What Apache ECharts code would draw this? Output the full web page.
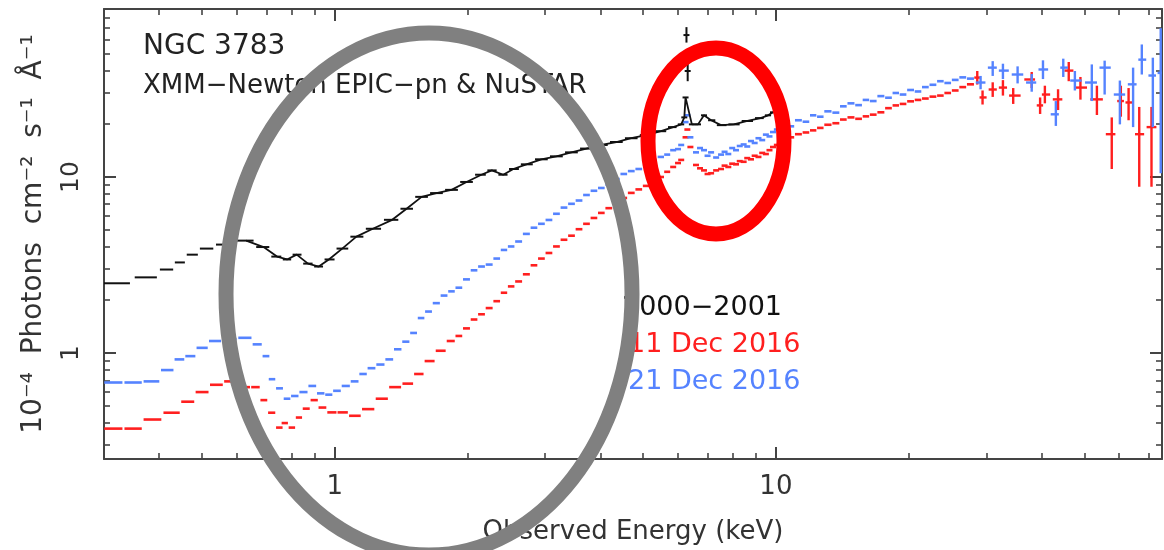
<!DOCTYPE html>
<html><head><meta charset="utf-8">
<script src="https://cdn.jsdelivr.net/npm/echarts@6/dist/echarts.min.js"></script>
<style>html,body{margin:0;padding:0;background:#fff}#c{width:1164px;height:550px}</style>
</head><body><div id="c"></div>
<script>
// ---- data (energy keV, flux 1e-4 ph cm^-2 s^-1 A^-1) ----
const blackE = [0.32,0.378,0.42,0.445,0.475,0.51,0.56,0.63,0.69,0.74,
  0.78,0.82,0.87,0.92,0.97,1.04,1.12,1.22,1.35,1.455,
  1.574,1.70,1.84,1.99,2.15,2.27,2.41,2.54,2.72,2.94,
  3.18,3.44,3.72,4.02,4.35,4.70,5.08,5.49,5.85,6.10,
  6.20,6.24,6.45,6.66,6.87,7.13,7.51,8.03,8.62,9.23,
  9.60,9.85];
const blackF = [2.49,2.69,2.98,3.27,3.62,3.92,4.13,4.35,4.0,3.53,
  3.40,3.62,3.22,3.10,3.40,3.92,4.58,5.08,5.71,6.6,
  7.71,8.1,8.45,9.37,10.3,10.9,10.3,11.1,11.8,12.6,
  13.1,13.8,14.5,15.2,15.8,16.6,17.3,18.2,19.2,19.9,
  21.8,28.3,19.9,19.9,22.4,21.0,19.7,19.9,20.8,21.6,
  22.4,23.3];
const blackPeakE = [6.27,6.31];
const blackPeakF = [64,40];
const blackPeakLo = [58,35];
const blackPeakHi = [71,46];

const blueE = [0.315,0.35,0.385,0.42,0.445,0.47,0.50,0.535,0.575,0.63,
  0.67,0.70,0.72,0.75,0.78,0.81,0.85,0.89,0.93,0.97,
  1.01,1.06,1.11,1.16,1.21,1.27,1.33,1.39,1.45,1.51,
  1.57,1.63,1.70,1.77,1.84,1.91,1.99,2.07,2.15,2.24,
  2.33,2.42,2.51,2.61,2.72,2.83,2.94,3.06,3.18,3.31,
  3.44,3.58,3.72,3.87,4.02,4.18,4.35,4.52,4.70,4.89,
  5.08,5.28,5.49,5.67,5.85,6.00,6.10,6.24,6.30,6.40,
  6.59,6.73,6.87,7.00,7.13,7.32,7.51,7.65,7.80,7.96,
  8.12,8.28,8.45,8.61,8.78,8.95,9.13,9.31,9.49,9.67,
  9.85,10.05,10.3,10.55,10.8,11.25,11.7,12.15,12.6,13.1,
  13.7,14.2,14.8,15.4,16.0,16.6,17.3,18.0,18.7,19.4,
  20.2,21.0,21.8,22.7,23.6,24.5,25.5,26.5,27.6];
const blueF = [0.68,0.68,0.69,0.80,0.92,0.96,1.07,1.17,1.20,1.22,
  1.12,0.96,0.71,0.63,0.55,0.57,0.60,0.65,0.59,0.58,
  0.61,0.65,0.69,0.76,0.82,0.86,0.92,1.05,1.16,1.30,
  1.58,1.72,1.92,2.12,2.24,2.35,2.62,2.95,3.10,3.18,
  3.44,3.85,4.03,4.30,4.75,5.15,5.42,5.70,6.18,6.70,
  7.04,7.35,7.90,8.35,8.66,9.05,9.74,10.4,10.8,11.1,
  11.7,12.5,13.0,13.4,14.2,14.4,15.2,20.5,22.4,16.8,
  13.8,14.6,14.2,13.2,13.8,12.9,13.4,13.9,13.5,14.6,
  14.2,15.0,15.3,14.9,16.0,15.6,16.6,16.2,17.4,17.0,
  18.0,18.6,19.0,19.8,19.4,21.0,20.6,22.4,22.0,23.6,
  23.2,25.2,26.2,25.6,27.4,27.0,28.8,28.2,30.0,29.4,
  31.2,30.6,32.4,33.4,35.0,34.2,35.6,36.8,36.2];
const blueHardE  = [29.1,31.0,32.7,35.3,38.0,40.3,43.1,44.8,47.6,52.0,55.6,60.2,64.5,67.5,71.5,74.5];
const blueHardF  = [34.4,41.8,40.2,38.2,34.4,40.8,22.7,41.8,35.3,34.4,41.8,29.4,33.6,46.4,37.7,39];
const blueHardLo = [31.5,37.5,36,34,30.5,36,19.5,37,31,27,29.4,19.9,19.2,38.2,19.2,10.5];
const blueHardHi = [37.5,45.5,44,42.5,38.5,46,27,47,40,43.6,45.8,35.3,41.8,56.6,47.6,70];

const redE = [0.315,0.35,0.385,0.43,0.465,0.50,0.54,0.58,0.625,0.665,
  0.69,0.72,0.75,0.77,0.80,0.83,0.86,0.90,0.935,0.985,
  1.04,1.11,1.19,1.28,1.37,1.47,1.55,1.64,1.74,1.84,
  1.91,1.99,2.07,2.15,2.24,2.33,2.42,2.51,2.61,2.72,
  2.83,2.94,3.06,3.18,3.31,3.44,3.58,3.72,3.87,4.02,
  4.18,4.35,4.52,4.70,4.89,5.08,5.28,5.49,5.67,5.85,
  6.00,6.10,6.24,6.30,6.40,6.59,6.73,6.87,7.00,7.13,
  7.32,7.51,7.65,7.80,7.96,8.12,8.28,8.45,8.61,8.78,
  8.95,9.13,9.31,9.49,9.67,9.85,10.05,10.3,10.55,10.8,
  11.25,11.7,12.15,12.6,13.1,13.7,14.2,14.8,15.4,16.0,
  16.6,17.3,18.0,18.7,19.4,20.2,21.0,21.8,22.7,23.6,
  24.5,25.5,26.5,27.6];
const redF = [0.372,0.372,0.419,0.458,0.529,0.60,0.66,0.69,0.64,0.64,
  0.54,0.458,0.377,0.40,0.377,0.43,0.483,0.54,0.49,0.46,
  0.46,0.44,0.48,0.55,0.64,0.67,0.76,0.90,1.03,1.17,
  1.25,1.38,1.55,1.66,1.80,1.97,2.20,2.39,2.55,2.80,
  3.15,3.44,3.70,4.03,4.40,4.64,5.05,5.42,5.85,6.25,
  6.65,7.13,7.60,8.12,8.50,8.90,9.50,10.0,10.7,11.4,
  12.0,12.5,16.8,18.6,14.8,11.7,11.2,10.9,10.4,10.5,
  10.9,11.1,11.6,11.4,11.9,11.8,12.3,12.2,12.8,12.6,
  13.2,13.0,13.7,13.5,14.2,14.8,15.2,15.6,16.3,16.8,
  17.5,17.9,18.4,19.0,19.8,20.2,21.2,21.8,21.4,22.1,
  22.6,23.3,24.6,25.5,26.0,26.9,27.4,27.9,28.6,29.0,
  30.0,31.0,32.4,33.6];
const redHardE  = [28.6,29.4,31.0,32.7,34.5,38.0,39.7,40.7,43.6,46.1,49.0,53.4,57.7,60.5,63.0,66.6,71.0];
const redHardF  = [36.7,28.3,31.4,32.2,29.0,35.8,25.5,29.4,27.6,40.2,32.2,27.6,17.5,27,26.5,17.5,19.2];
const redHardLo = [33.5,25.8,28.5,29,26,32,22.8,26.2,24,35,27.5,22.5,11.1,22,21,8.8,8.8];
const redHardHi = [40,31,34.5,35.5,32,39.5,28.3,33,31.5,45,37,33,21.8,33,32,25,25];

const xTickLabels = ['1','10'];
const yTickLabels = ['1','10'];
const legendLabels = ['2000\u22122001','11 Dec 2016','21 Dec 2016'];

// ---- styles ----
const FONT = '"DejaVu Sans", sans-serif';
const C_BLACK = '#111111', C_RED = '#ff1f1f', C_BLUE = '#5583ff';
const AX = '#444';

function binSeries(E, F, lo, hi, color, shrink, lw) {
  return {
    type: 'custom', coordinateSystem: 'cartesian2d', xAxisIndex: 0, yAxisIndex: 0,
    z: 3, clip: true, silent: true,
    data: E.map((e, i) => [e, F[i], lo ? lo[i] : F[i], hi ? hi[i] : F[i]]),
    renderItem(params, api) {
      const i = params.dataIndex, n = E.length;
      const e = api.value(0), f = api.value(1), l = api.value(2), h = api.value(3);
      const prev = i > 0 ? E[i - 1] : (n > 1 ? e * e / E[i + 1] : e * 0.98);
      const next = i < n - 1 ? E[i + 1] : (n > 1 ? e * e / E[i - 1] : e * 1.02);
      const pc = api.coord([e, f]);
      const pl = api.coord([Math.sqrt(prev * e), f]);
      const pr = api.coord([Math.sqrt(e * next), f]);
      const hl = Math.max((pc[0] - pl[0]) * shrink, 3);
      const hr = Math.max((pr[0] - pc[0]) * shrink, 3);
      const ch = [{ type: 'line', shape: { x1: pc[0] - hl, y1: pc[1], x2: pc[0] + hr, y2: pc[1] },
        style: { stroke: color, lineWidth: lw } }];
      if (h > f || l < f) {
        const a = api.coord([e, l]), b = api.coord([e, h]);
        ch.push({ type: 'line', shape: { x1: pc[0], y1: a[1], x2: pc[0], y2: b[1] },
          style: { stroke: color, lineWidth: lw } });
      }
      return { type: 'group', children: ch };
    }
  };
}

const lineBlack = blackE.map((e, i) => [e, blackF[i]]).filter(p => p[0] >= 0.6);

const axisBase = {
  type: 'log', logBase: 10,
  axisLine: { show: true, lineStyle: { color: AX, width: 2 } },
  axisTick: { show: true, inside: true, length: 12, lineStyle: { color: AX, width: 2 } },
  minorTick: { show: true, splitNumber: 9, length: 6, lineStyle: { color: AX, width: 1.6 } },
  splitLine: { show: false }, minorSplitLine: { show: false }
};

const chart = echarts.init(document.getElementById('c'));
chart.setOption({
  animation: false,
  backgroundColor: '#fff',
  grid: { left: 104, right: 2, top: 9, bottom: 86 },
  xAxis: [
    Object.assign({}, axisBase, {
      position: 'bottom', min: 0.3, max: 75,
      name: 'Observed Energy (keV)', nameLocation: 'middle', nameGap: 60,
      nameTextStyle: { fontSize: 26, color: '#333', fontFamily: FONT },
      axisLabel: { fontSize: 26, color: '#333', fontFamily: FONT, margin: 15,
        showMinLabel: false, showMaxLabel: false,
        formatter: v => { const k = Math.round(Math.log10(v)); return (k >= 0 && k < xTickLabels.length && Math.abs(Math.log10(v) - k) < 1e-6) ? xTickLabels[k] : ''; } }
    }),
    Object.assign({}, axisBase, { position: 'top', min: 0.3, max: 75, axisLabel: { show: false } })
  ],
  yAxis: [
    Object.assign({}, axisBase, {
      position: 'left', min: 0.25, max: 90,
      name: '10\u207B\u2074  Photons  cm\u207B\u00B2  s\u207B\u00B9  \u00C5\u207B\u00B9',
      nameLocation: 'middle', nameGap: 56,
      nameTextStyle: { fontSize: 28, color: '#333', fontFamily: FONT },
      axisLabel: { fontSize: 25, color: '#333', fontFamily: FONT, margin: 20, rotate: 90,
        showMinLabel: false, showMaxLabel: false,
        formatter: v => { const k = Math.round(Math.log10(v)); return (k >= 0 && k < yTickLabels.length && Math.abs(Math.log10(v) - k) < 1e-6) ? yTickLabels[k] : ''; } }
    }),
    Object.assign({}, axisBase, { position: 'right', min: 0.25, max: 90, axisLabel: { show: false } })
  ],
  series: [
    binSeries(redE, redF, null, null, C_RED, 0.9, 2.6),
    binSeries(redHardE, redHardF, redHardLo, redHardHi, C_RED, 0.8, 2.4),
    binSeries(blueE, blueF, null, null, C_BLUE, 0.9, 2.6),
    binSeries(blueHardE, blueHardF, blueHardLo, blueHardHi, C_BLUE, 0.8, 2.4),
    binSeries(blackE, blackF, null, null, C_BLACK, 0.85, 2),
    binSeries(blackPeakE, blackPeakF, blackPeakLo, blackPeakHi, C_BLACK, 0.9, 2),
    { type: 'line', data: lineBlack, showSymbol: false, symbol: 'none', silent: true, z: 4,
      lineStyle: { color: C_BLACK, width: 1.8 } }
  ],
  graphic: [
    { type: 'text', x: 143, y: 47, z: 50, style: { text: 'NGC 3783', fontSize: 28, fontFamily: FONT, fill: '#222', align: 'left', verticalAlign: 'middle' } },
    { type: 'text', x: 143, y: 86, z: 50, style: { text: 'XMM\u2212Newton EPIC\u2212pn & NuSTAR', fontSize: 26, fontFamily: FONT, fill: '#222', align: 'left', verticalAlign: 'middle' } },
    { type: 'text', x: 622, y: 308, z: 50, style: { text: legendLabels[0], fontSize: 27, fontFamily: FONT, fill: C_BLACK, align: 'left', verticalAlign: 'middle' } },
    { type: 'text', x: 628, y: 345, z: 50, style: { text: legendLabels[1], fontSize: 27, fontFamily: FONT, fill: C_RED, align: 'left', verticalAlign: 'middle' } },
    { type: 'text', x: 628, y: 382, z: 50, style: { text: legendLabels[2], fontSize: 27, fontFamily: FONT, fill: C_BLUE, align: 'left', verticalAlign: 'middle' } },
    { type: 'ellipse', z: 100, shape: { cx: 429, cy: 294, rx: 203, ry: 261 }, style: { fill: 'none', stroke: '#808080', lineWidth: 15 } },
    { type: 'ellipse', z: 100, shape: { cx: 716, cy: 141, rx: 68, ry: 93 }, style: { fill: 'none', stroke: '#ff0000', lineWidth: 15 } }
  ]
});
</script>
</body></html>
